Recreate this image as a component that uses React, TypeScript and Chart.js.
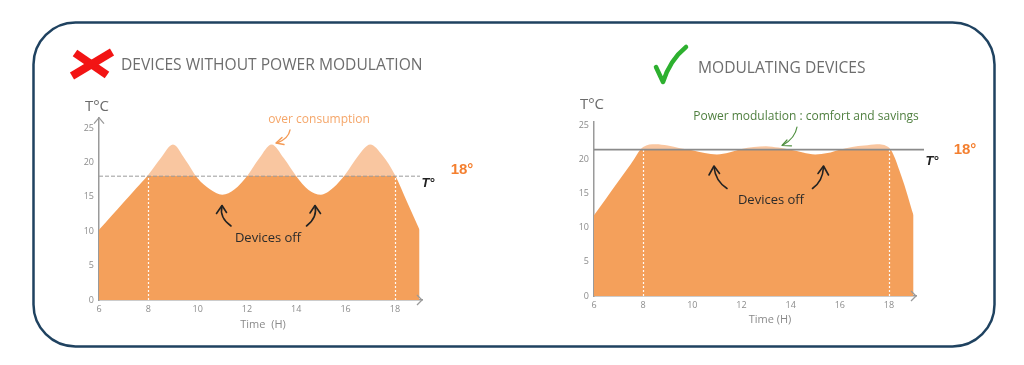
import React, { useEffect, useRef } from "react";
import { Chart, registerables } from "chart.js";

Chart.register(...registerables);

// ---------------- data ----------------
const hours = [6, 6.5, 7, 7.5, 8, 8.5, 9, 9.5, 10, 10.5, 11, 11.5, 12, 12.5, 13, 13.5, 14, 14.5, 15, 15.5, 16, 16.5, 17, 17.5, 18, 18.5, 19];
const tempWithoutModulation = [10.2, 12.2, 14.2, 16.2, 18.2, 20.6, 22.6, 20.4, 17.7, 16.1, 15.3, 16.1, 18.0, 20.6, 22.6, 20.6, 18.0, 16.0, 15.3, 16.3, 18.3, 20.9, 22.6, 21.0, 18.2, 14.2, 10.2];
const tempWithModulation = [11.8, 14.3, 16.8, 19.3, 21.8, 22.2, 22.0, 21.6, 21.3, 20.9, 20.7, 21.0, 21.5, 21.8, 21.9, 21.7, 21.4, 21.0, 20.7, 20.9, 21.4, 21.8, 22.0, 22.2, 21.7, 17.6, 11.8];
const setpointWithout = 18;
const setpointWith = 21.4;
const markerHours = [8, 18];
const xTickStep = 2;
const yTickStep = 5;
const xMin = 6;

const DARK = "#F4A05B";
const LIGHT = "#F9C6A0";
const FONT = "'Open Sans', 'DejaVu Sans', sans-serif";

type PanelProps = {
  values: number[];
  setpoint: number;
  yMax: number;
  xMax: number;
  dashed: boolean;
  yArrow: boolean;
  lineExtend: number;
  padTop: number;
  padRight: number;
  yWidth: number;
  xHeight: number;
  left: number;
  top: number;
};

function ChartPanel(p: PanelProps) {
  const ref = useRef<HTMLCanvasElement>(null);
  useEffect(() => {
    const canvas = ref.current!;
    const refPlugin = {
      id: "refLine",
      afterDatasetsDraw(chart: any) {
        const { ctx, chartArea, scales } = chart;
        const ySet = scales.y.getPixelForValue(p.setpoint);
        const y0 = scales.y.getPixelForValue(0);
        ctx.save();
        ctx.strokeStyle = "rgba(255,255,255,0.95)";
        ctx.lineWidth = 1.2;
        ctx.setLineDash([2, 2]);
        markerHours.forEach((h) => {
          const px = Math.round(scales.x.getPixelForValue(h)) + 0.5;
          ctx.beginPath();
          ctx.moveTo(px, y0);
          ctx.lineTo(px, ySet);
          ctx.stroke();
        });
        ctx.setLineDash(p.dashed ? [4, 2] : []);
        ctx.strokeStyle = p.dashed ? "#9b9b9b" : "#8a8a8a";
        ctx.lineWidth = p.dashed ? 1 : 1.6;
        ctx.beginPath();
        ctx.moveTo(chartArea.left, ySet);
        ctx.lineTo(chartArea.right + p.lineExtend, ySet);
        ctx.stroke();
        ctx.restore();
      },
      afterDraw(chart: any) {
        const { ctx, chartArea, scales } = chart;
        const y0 = scales.y.getPixelForValue(0);
        ctx.save();
        ctx.strokeStyle = "#9a9a9a";
        ctx.lineWidth = 1.3;
        ctx.beginPath();
        ctx.moveTo(chartArea.right - 5, y0 - 5);
        ctx.lineTo(chartArea.right, y0);
        ctx.lineTo(chartArea.right - 5, y0 + 5);
        ctx.stroke();
        if (p.yArrow) {
          ctx.beginPath();
          ctx.moveTo(chartArea.left - 5, chartArea.top + 6);
          ctx.lineTo(chartArea.left, chartArea.top);
          ctx.lineTo(chartArea.left + 5, chartArea.top + 6);
          ctx.stroke();
        }
        ctx.restore();
      },
    };
    const chart = new Chart(canvas, {
      type: "line",
      data: {
        datasets: [
          {
            data: hours.map((h, i) => ({ x: h, y: p.values[i] })),
            fill: "origin",
            borderWidth: 0,
            pointRadius: 0,
            cubicInterpolationMode: "monotone",
            backgroundColor: (c: any) => {
              const ch = c.chart;
              const area = ch.chartArea;
              if (!area) return DARK;
              const yPix = ch.scales.y.getPixelForValue(p.setpoint);
              const g = ch.ctx.createLinearGradient(0, area.top, 0, area.bottom);
              const f = Math.min(1, Math.max(0, (yPix - area.top) / (area.bottom - area.top)));
              g.addColorStop(0, LIGHT);
              g.addColorStop(f, LIGHT);
              g.addColorStop(f, DARK);
              g.addColorStop(1, DARK);
              return g;
            },
          },
        ],
      },
      options: {
        animation: false,
        responsive: false,
        events: [],
        layout: { padding: { left: 0, top: p.padTop, right: p.padRight, bottom: 0 } },
        plugins: { legend: { display: false }, tooltip: { enabled: false } },
        scales: {
          x: {
            type: "linear",
            min: xMin,
            max: p.xMax,
            z: 1,
            grid: { display: false, drawTicks: false },
            border: { display: true, color: "#9a9a9a", width: 1.5 },
            ticks: {
              stepSize: xTickStep,
              includeBounds: false,
              color: "#8c8c8c",
              font: { family: FONT, size: 9 },
              padding: 4,
              maxRotation: 0,
            },
            afterFit: (s: any) => {
              s.height = p.xHeight;
            },
          },
          y: {
            min: 0,
            max: p.yMax,
            z: 1,
            grid: { display: false, drawTicks: false },
            border: { display: true, color: "#9a9a9a", width: 1.5 },
            ticks: {
              stepSize: yTickStep,
              includeBounds: false,
              color: "#8c8c8c",
              font: { family: FONT, size: 9 },
              padding: 5,
            },
            afterFit: (s: any) => {
              s.width = p.yWidth;
            },
          },
        },
      },
      plugins: [refPlugin],
    } as any);
    return () => chart.destroy();
  }, []);
  return (
    <canvas
      ref={ref}
      width={400}
      height={235}
      style={{ position: "absolute", left: p.left, top: p.top, width: 400, height: 235 }}
    />
  );
}

type LabelProps = { x: number; y: number; anchor?: "center" | "left"; style?: React.CSSProperties; children: React.ReactNode };
function Label({ x, y, anchor = "center", style, children }: LabelProps) {
  return (
    <div
      style={{
        position: "absolute",
        left: x,
        top: y,
        transform: anchor === "center" ? "translate(-50%, -50%)" : "translate(0, -50%)",
        whiteSpace: "nowrap",
        fontFamily: FONT,
        lineHeight: 1,
        ...style,
      }}
    >
      {children}
    </div>
  );
}

function CurvedArrow({ d, head, color, width }: { d: string; head: string; color: string; width: number }) {
  return (
    <g fill="none" stroke={color} strokeWidth={width} strokeLinecap="round" strokeLinejoin="round">
      <path d={d} />
      <path d={head} />
    </g>
  );
}

export default function App() {
  const titleStyle: React.CSSProperties = { fontSize: 15.6, color: "#6d6d6d", fontWeight: 400 };
  const tcStyle: React.CSSProperties = { fontSize: 15, color: "#6a6a6a" };
  const offStyle: React.CSSProperties = { fontSize: 13, color: "#2b2b2b" };
  const tStyle: React.CSSProperties = { fontSize: 13, color: "#222", fontStyle: "italic", fontWeight: 700, fontFamily: "'Liberation Sans', Arial, sans-serif" };
  const degStyle: React.CSSProperties = { fontSize: 15, color: "#F47F2F", fontWeight: 700, fontFamily: "'Liberation Sans', Arial, sans-serif" };
  const timeStyle: React.CSSProperties = { fontSize: 11, color: "#8a8a8a" };
  return (
    <div style={{ position: "absolute", left: 0, top: 0, width: 1024, height: 365, background: "#fff", overflow: "hidden" }}>
      <ChartPanel
        values={tempWithoutModulation}
        setpoint={setpointWithout}
        yMax={26.5}
        xMax={19.1}
        dashed={true}
        yArrow={true}
        lineExtend={-2}
        padTop={17.7}
        padRight={38}
        yWidth={39}
        xHeight={35}
        left={60}
        top={100}
      />
      <ChartPanel
        values={tempWithModulation}
        setpoint={setpointWith}
        yMax={25.5}
        xMax={19.1}
        dashed={false}
        yArrow={false}
        lineExtend={8}
        padTop={21.6}
        padRight={39}
        yWidth={39}
        xHeight={39}
        left={555}
        top={100}
      />
      <svg width={1024} height={365} style={{ position: "absolute", left: 0, top: 0, pointerEvents: "none" }}>
        <rect x={33.5} y={22.5} width={961} height={324} rx={42} ry={42} fill="none" stroke="#1F4260" strokeWidth={2.5} />
        {/* red cross */}
        <g stroke="#F21414" strokeWidth={8} strokeLinecap="butt">
          <line x1={75} y1={53} x2={107} y2={75} />
          <line x1={112} y1={52} x2={72} y2={76} />
        </g>
        {/* green check */}
        <path d="M656 67 L663 82 Q670 60 686 47" fill="none" stroke="#2DB02F" strokeWidth={4.5} strokeLinecap="round" strokeLinejoin="round" />
        {/* annotation arrows */}
        <CurvedArrow d="M290 130 C289 136 285 140 277 143" head="M282 137.5 L276 143 L284 144.5" color="#F49A55" width={1.4} />
        <CurvedArrow d="M797 127 C796 133 792 140 783 145" head="M787 140 L782 145.5 L791.5 145.8" color="#4F8F3F" width={1.2} />
        <CurvedArrow d="M231 226 C224 221 220 214 222 206" head="M216.5 213.5 L222 205.5 L226.5 212.5" color="#222" width={1.6} />
        <CurvedArrow d="M306.5 226 C313 221 317 214 315 206" head="M310 213 L315 205.5 L320.5 213.5" color="#222" width={1.6} />
        <CurvedArrow d="M727 188.5 C720 184 715 177 714 167" head="M709 175 L714 166 L719.5 173.5" color="#222" width={1.6} />
        <CurvedArrow d="M812.5 188.5 C819 184 823 177 823.5 167" head="M818 173.5 L823.5 166 L828.5 175" color="#222" width={1.6} />
      </svg>
      <Label x={121} y={65} anchor="left" style={titleStyle}>DEVICES WITHOUT POWER MODULATION</Label>
      <Label x={698} y={68} anchor="left" style={titleStyle}>MODULATING DEVICES</Label>
      <Label x={97} y={105} style={tcStyle}>T°C</Label>
      <Label x={592} y={103} style={tcStyle}>T°C</Label>
      <Label x={319} y={119} style={{ fontSize: 12, color: "#F5A669" }}>over consumption</Label>
      <Label x={806} y={116} style={{ fontSize: 12, color: "#4F7F3F" }}>Power modulation : comfort and savings</Label>
      <Label x={268} y={237} style={offStyle}>Devices off</Label>
      <Label x={771} y={199} style={offStyle}>Devices off</Label>
      <Label x={428} y={182} style={tStyle}>T°</Label>
      <Label x={932} y={160} style={tStyle}>T°</Label>
      <Label x={462} y={168} style={degStyle}>18°</Label>
      <Label x={965} y={148} style={degStyle}>18°</Label>
      <Label x={263} y={323} style={timeStyle}>Time&nbsp;&nbsp;(H)</Label>
      <Label x={770} y={318} style={timeStyle}>Time (H)</Label>
    </div>
  );
}
